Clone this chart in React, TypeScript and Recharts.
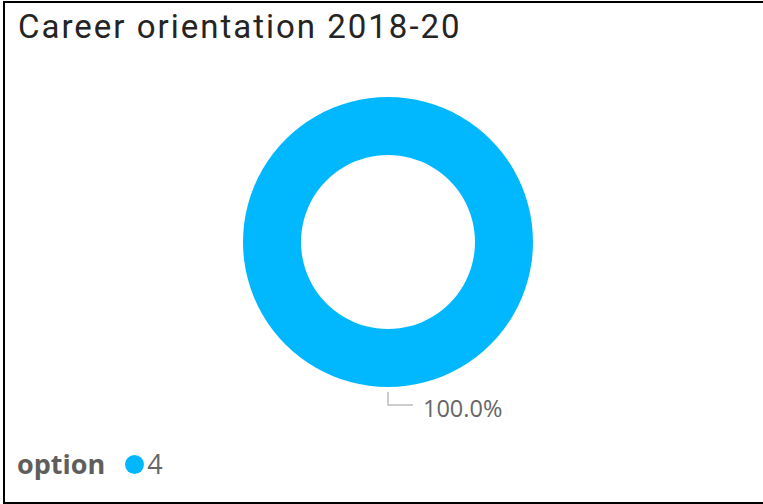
import React from 'react';
import { PieChart, Pie, Cell, Legend } from 'recharts';

const chartTitle = 'Career orientation 2018-20';
const legendTitle = 'option';
const categories = ['4'];
const values = [4];
const colors = ['#01B8FF'];

const data = categories.map((c, i) => ({ name: c, value: values[i] }));

const RAD = Math.PI / 180;

const renderLabel = (props: any) => {
  const { cx, cy, midAngle, outerRadius, percent } = props;
  const cos = Math.cos(-midAngle * RAD);
  const sin = Math.sin(-midAngle * RAD);
  const sx = cx + (outerRadius + 5) * cos;
  const sy = cy + (outerRadius + 5) * sin;
  const mx = cx + (outerRadius + 18) * cos;
  const my = cy + (outerRadius + 18) * sin;
  const dir = cos >= -1e-9 ? 1 : -1;
  const ex = mx + dir * 25;
  return (
    <g>
      <path
        d={`M${sx},${sy}L${mx},${my}L${ex},${my}`}
        stroke="#BDBDBD"
        strokeWidth={1.5}
        fill="none"
      />
      <text
        x={ex + dir * 10}
        y={my + 12}
        textAnchor={dir > 0 ? 'start' : 'end'}
        fill="#666666"
        style={{ fontFamily: '"Open Sans", sans-serif', fontSize: 23.5 }}
      >
        {`${(percent * 100).toFixed(1)}%`}
      </text>
    </g>
  );
};

const renderLegend = () => (
  <div
    style={{
      display: 'flex',
      alignItems: 'center',
      height: 26,
      lineHeight: '26px',
      fontFamily: '"Open Sans", sans-serif',
      fontSize: 27,
      whiteSpace: 'nowrap',
    }}
  >
    <span style={{ fontWeight: 700, color: '#605E5C' }}>{legendTitle}</span>
    {data.map((d, i) => (
      <span key={d.name} style={{ display: 'flex', alignItems: 'center' }}>
        <span
          style={{
            display: 'inline-block',
            width: 19,
            height: 19,
            borderRadius: '50%',
            background: colors[i % colors.length],
            marginLeft: 20,
          }}
        />
        <span style={{ color: '#666666', marginLeft: 3 }}>{d.name}</span>
      </span>
    ))}
  </div>
);

export default function App() {
  return (
    <div
      style={{
        position: 'absolute',
        left: 0,
        top: 0,
        width: 763,
        height: 504,
        overflow: 'hidden',
        background: '#ffffff',
      }}
    >
      <div
        style={{
          position: 'absolute',
          left: 3,
          top: 1,
          width: 780,
          height: 503,
          boxSizing: 'border-box',
          borderTop: '2px solid #000',
          borderLeft: '2px solid #000',
          borderBottom: '2px solid #000',
        }}
      />
      <div
        style={{
          position: 'absolute',
          left: 18,
          top: 10,
          fontFamily: 'Roboto, sans-serif',
          fontSize: 33,
          lineHeight: '33px',
          letterSpacing: 2,
          color: '#252423',
          whiteSpace: 'nowrap',
        }}
      >
        {chartTitle}
      </div>
      <div style={{ position: 'absolute', left: 0, top: 0 }}>
        <PieChart width={763} height={504} margin={{ top: 0, right: 0, bottom: 0, left: 0 }}>
          <Pie
            data={data}
            dataKey="value"
            nameKey="name"
            cx={388}
            cy={242}
            innerRadius={87}
            outerRadius={145}
            startAngle={90}
            endAngle={-270}
            stroke="none"
            label={renderLabel}
            labelLine={false}
            isAnimationActive={false}
          >
            {data.map((d, i) => (
              <Cell key={d.name} fill={colors[i % colors.length]} />
            ))}
          </Pie>
          <Legend
            content={renderLegend}
            wrapperStyle={{ position: 'absolute', left: 17, top: 451, width: 'auto' }}
          />
        </PieChart>
      </div>
    </div>
  );
}
